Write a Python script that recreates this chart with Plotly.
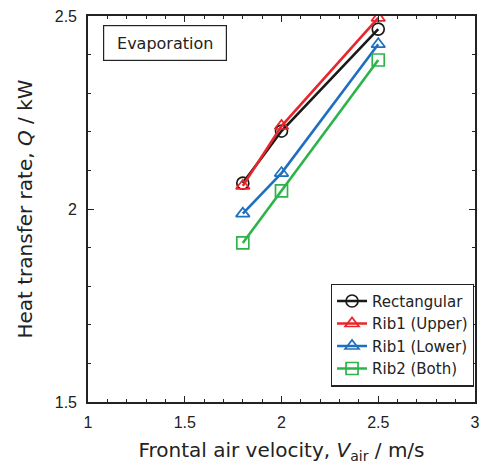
import plotly.graph_objects as go

velocity = [1.8, 2.0, 2.5]
rectangular = [2.067, 2.202, 2.466]
rib1_upper = [2.060, 2.215, 2.495]
rib1_lower = [1.988, 2.093, 2.427]
rib2_both = [1.912, 2.047, 2.386]

series = [
    ("Rectangular", rectangular, "#1a1a1a", "circle-open"),
    ("Rib1 (Upper)", rib1_upper, "#e8262b", "triangle-up-open"),
    ("Rib1 (Lower)", rib1_lower, "#1f6fc0", "triangle-up-open"),
    ("Rib2 (Both)", rib2_both, "#2cb34a", "square-open"),
]

tick_font = "Liberation Sans, Arial, Helvetica, sans-serif"
text_font = "DejaVu Sans, Liberation Sans, sans-serif"
fig = go.Figure()
for name, vals, col, sym in series:
    fig.add_trace(go.Scatter(
        x=velocity, y=vals, name=name, mode="lines+markers",
        line=dict(color=col, width=2.6),
        marker=dict(symbol=sym, size=12, color=col, line=dict(width=1.7, color=col)),
    ))

axis_common = dict(
    showgrid=False, zeroline=False, showline=True, linecolor="#222", linewidth=1.6,
    mirror="allticks", ticks="inside", ticklen=6, tickwidth=1, tickcolor="#222",
    tickfont=dict(family=tick_font, size=16, color="#222"), automargin=False,
)
fig.update_xaxes(
    range=[1, 3], tickvals=[1, 1.5, 2, 2.5, 3], ticktext=["1", "1.5", "2", "2.5", "3"],
    minor=dict(dtick=0.1, ticks="inside", ticklen=3, tickcolor="#222", showgrid=False),
    ticklabelstandoff=5,
    title=dict(text="Frontal air velocity, <i>V</i><sub>air</sub> / m/s",
               font=dict(family=text_font, size=20, color="#222"), standoff=13),
    **axis_common,
)
fig.update_yaxes(
    range=[1.5, 2.5], tickvals=[1.5, 2, 2.5], ticktext=["1.5", "2", "2.5"],
    minor=dict(dtick=0.1, ticks="inside", ticklen=3, tickcolor="#222", showgrid=False),
    ticklabelstandoff=6,
    title=dict(text="Heat transfer rate, <i>Q</i> / kW",
               font=dict(family=text_font, size=20, color="#222"), standoff=17),
    **axis_common,
)
fig.add_annotation(
    x=0.039, y=0.977, xref="paper", yref="paper", xanchor="left", yanchor="top",
    text="Evaporation", showarrow=False, width=112, height=24,
    font=dict(family=text_font, size=16, color="#222"),
    bordercolor="#222", borderwidth=1.2, borderpad=5, bgcolor="white",
)
fig.update_layout(
    width=484, height=465,
    margin=dict(l=88, r=9, t=16, b=63),
    paper_bgcolor="white", plot_bgcolor="white",
    font=dict(family=text_font, color="#222"),
    showlegend=True,
    legend=dict(
        x=0.997, y=0.04, xanchor="right", yanchor="bottom",
        bordercolor="#222", borderwidth=1.2, bgcolor="white",
        font=dict(family=text_font, size=15, color="#222"),
        tracegroupgap=0, itemwidth=30,
    ),
)
fig.write_html("out.html")
